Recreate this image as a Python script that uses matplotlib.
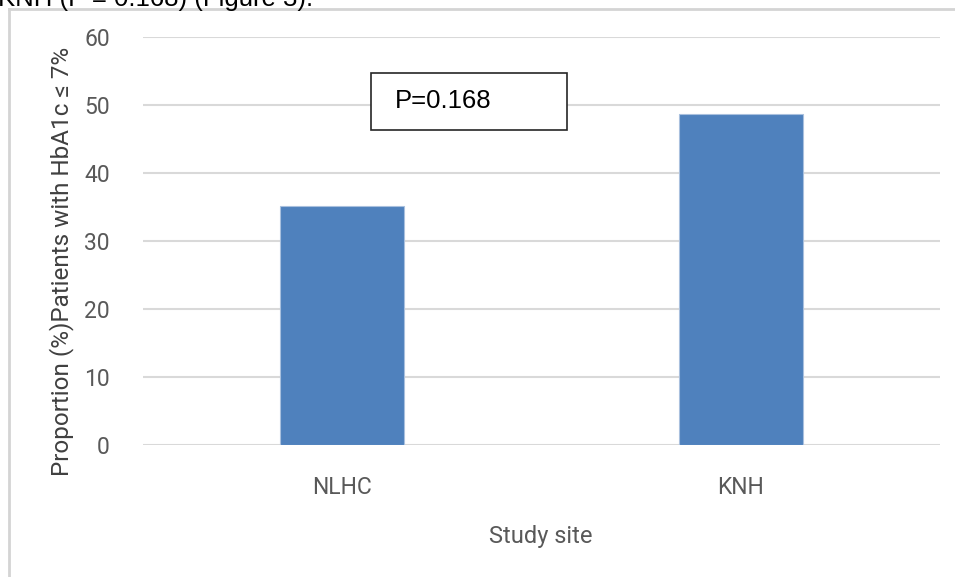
import matplotlib
matplotlib.use("Agg")
import matplotlib.pyplot as plt
from matplotlib.patches import Rectangle
from matplotlib.lines import Line2D

sites = ["NLHC", "KNH"]
proportion = [35.1, 48.7]
yticks = [0, 10, 20, 30, 40, 50, 60]
p_text = "P=0.168"

narrow = ["Liberation Sans Narrow", "Roboto", "DejaVu Sans"]
arial = ["Liberation Sans", "DejaVu Sans"]
tick_col = "#595959"

fig = plt.figure(figsize=(9.55, 5.77), dpi=100)
ax = fig.add_axes([143/955, 1-445/577, (940-143)/955, (445-37)/577])

ax.bar(range(len(sites)), proportion, width=0.31, color="#4f81bd",
       edgecolor="#a9c0de", linewidth=0.8, zorder=3)
ax.set_xlim(-0.5, 1.5)
ax.set_ylim(0, 60)
ax.set_yticks(yticks)
ax.set_xticks(range(len(sites)))
ax.set_xticklabels(sites)
ax.grid(axis="y", color="#d9d9d9", linewidth=1.5, zorder=0)
for s in ax.spines.values():
    s.set_visible(False)
ax.tick_params(length=0, colors=tick_col, labelsize=16.5)
ax.tick_params(axis="y", pad=24)
ax.tick_params(axis="x", pad=22)
for lab in ax.get_xticklabels() + ax.get_yticklabels():
    lab.set_family(narrow)

# annotation box
ax.add_patch(Rectangle((0.286, 0.772), 0.246, 0.14, transform=ax.transAxes,
                       facecolor="white", edgecolor="#262626", linewidth=1.2, zorder=5))
ax.text(0.316, 0.842, p_text, transform=ax.transAxes, fontsize=18.5,
        family=arial, va="center", ha="left", zorder=6)

fig.text(62/955, 1-261/577, "Proportion (%)Patients with HbA1c \u2264 7%",
         rotation=90, ha="center", va="center", fontsize=17.5,
         color="#404040", family=narrow)
fig.text(541/955, 1-537/577, "Study site", ha="center", va="center",
         fontsize=17, color=tick_col, family=narrow)

# cropped page text and frame
fig.text(-2/955, 1-6/577, "KNH (P = 0.168) (Figure 3).", ha="left",
         va="baseline", fontsize=18.5, family=arial)
fig.add_artist(Line2D([9/955, 9/955], [0, 1-9/577], transform=fig.transFigure,
                      color="#d4d4d4", linewidth=2))
fig.add_artist(Line2D([9/955, 1], [1-9/577, 1-9/577], transform=fig.transFigure,
                      color="#d4d4d4", linewidth=2))

fig.savefig("out.png", dpi=100)
